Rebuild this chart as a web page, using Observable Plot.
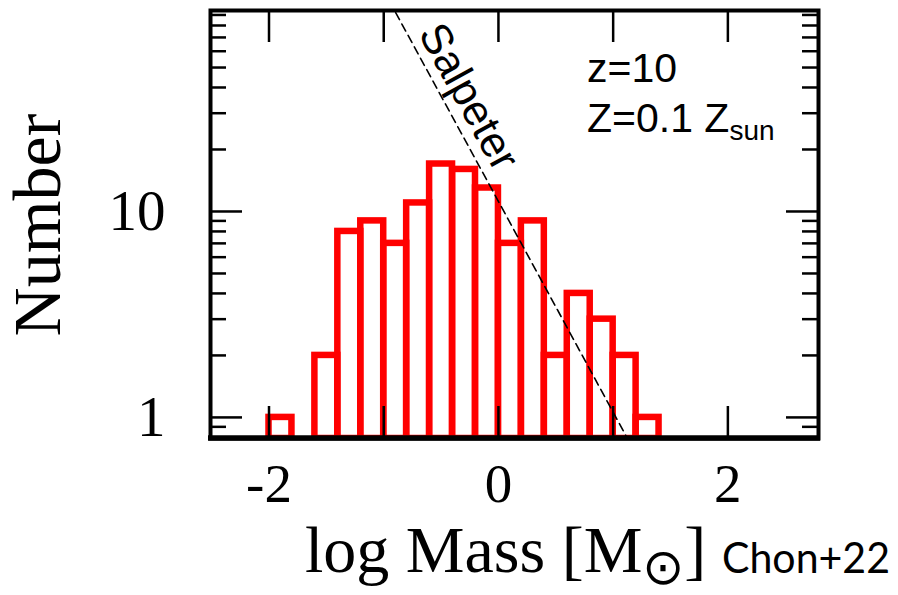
<!DOCTYPE html>
<html><head><meta charset="utf-8">
<script src="https://cdn.jsdelivr.net/npm/d3@7"></script>
<script src="https://cdn.jsdelivr.net/npm/@observablehq/plot@0.6"></script>
<style>body{margin:0;background:#fff} svg{display:block}</style>
</head><body><div id="chart"></div>
<script>
// Histogram bins (log Mass) and counts
const binLeft  = [-2.0,-1.8,-1.6,-1.4,-1.2,-1.0,-0.8,-0.6,-0.4,-0.2,0.0,0.2,0.4,0.6,0.8,1.0,1.2];
const binRight = [-1.8,-1.6,-1.4,-1.2,-1.0,-0.8,-0.6,-0.4,-0.2,0.0,0.2,0.4,0.6,0.8,1.0,1.2,1.4];
const counts   = [1,0,2,8,9,7,11,17,16,13,7,9,2,4,3,2,1];
// Salpeter reference line
const salpeterLogM = [-0.95, 1.13];
const salpeterN    = [105, 0.78];
// Ticks
const xTicks = [-2,-1,0,1,2];
const xTickLabels = [-2,0,2];
const yTickLabels = [1,10];
const yMinor = [0.8,0.9,2,3,4,5,6,7,8,9,20,30,40,50,60,70,80,90];
// Annotations
const salpeterLabel = {x: -0.26, y: 36, text: "Salpeter"};

const W = 898, H = 595, mL = 210, mR = 80, mT = 10, mB = 157;
const iw = W - mL - mR, ih = H - mT - mB;
const majorLen = 32, minorLen = 16;

const bins = binLeft.map((x1, i) => ({x1, x2: binRight[i], n: counts[i]})).filter(d => d.n > 0);
const salpeter = salpeterLogM.map((x, i) => ({x, y: salpeterN[i]}));
const yMin = 0.79, yMax = 94.6;

const serif = "'Liberation Serif', 'Times New Roman', serif";
const sans = "'Liberation Sans', Arial, sans-serif";

const plot = Plot.plot({
  width: W, height: H,
  marginLeft: mL, marginRight: mR, marginTop: mT, marginBottom: mB,
  x: {domain: [-2.51, 2.79]},
  y: {type: "log", domain: [yMin, yMax]},
  style: {background: "white", color: "black"},
  marks: [
    Plot.rect(bins, {x1: "x1", x2: "x2", y1: yMin, y2: "n", fill: "none", stroke: "#ff0000", strokeWidth: 6.5, clip: true}),
    Plot.line(salpeter, {x: "x", y: "y", stroke: "black", strokeWidth: 1.6, strokeDasharray: "8,5", clip: true}),
    Plot.text([salpeterLabel], {x: "x", y: "y", text: "text", rotate: 61, fontSize: 43, fontFamily: sans, fill: "black"}),
    // x ticks bottom and top (inward)
    Plot.tickX(xTicks, {x: d => d, insetTop: ih - majorLen, stroke: "black", strokeWidth: 2.5}),
    Plot.tickX(xTicks, {x: d => d, insetBottom: ih - majorLen, stroke: "black", strokeWidth: 2.5}),
    // y ticks left and right (inward)
    Plot.tickY(yTickLabels, {y: d => d, insetRight: iw - majorLen, stroke: "black", strokeWidth: 2.5}),
    Plot.tickY(yTickLabels, {y: d => d, insetLeft: iw - majorLen, stroke: "black", strokeWidth: 2.5}),
    Plot.tickY(yMinor, {y: d => d, insetRight: iw - minorLen, stroke: "black", strokeWidth: 2.5}),
    Plot.tickY(yMinor, {y: d => d, insetLeft: iw - minorLen, stroke: "black", strokeWidth: 2.5}),
    Plot.frame({stroke: "black", strokeWidth: 4}),
    Plot.axisX({ticks: xTickLabels, tickSize: 0, tickPadding: 24, fontSize: 55, fontFamily: serif, tickFormat: d => String(d), label: null}),
    Plot.axisY({ticks: yTickLabels, tickSize: 0, tickPadding: 45, fontSize: 57, fontFamily: serif, tickFormat: d => String(d), label: null})
  ]
});

const svg = d3.select(plot);
// bottom axis line thicker
svg.append("line").attr("x1", mL - 2).attr("x2", W - mR + 2).attr("y1", H - mB).attr("y2", H - mB)
  .attr("stroke", "black").attr("stroke-width", 5.5);

// y label
svg.append("text").attr("transform", "translate(60,225) rotate(-90)")
  .attr("text-anchor", "middle").attr("font-family", serif).attr("font-size", 68).attr("fill", "black")
  .text("Number");

// x label
const xl = svg.append("text").attr("x", 305).attr("y", 572).attr("text-anchor", "start")
  .attr("font-family", serif).attr("font-size", 66).attr("fill", "black");
xl.append("tspan").text("log Mass [M");
xl.append("tspan").attr("dy", 12).attr("font-size", 50).attr("font-family", "'DejaVu Sans', sans-serif").text("⊙");
xl.append("tspan").attr("dy", -12).text("]");

// credit
svg.append("text").attr("x", 722).attr("y", 573).attr("text-anchor", "start")
  .attr("font-family", "Lato, 'Open Sans', sans-serif").attr("font-size", 43).attr("fill", "black")
  .attr("textLength", 168).attr("lengthAdjust", "spacingAndGlyphs")
  .text("Chon+22");

// annotation
svg.append("text").attr("x", 587).attr("y", 82).attr("text-anchor", "start")
  .attr("font-family", sans).attr("font-size", 41).attr("fill", "black").text("z=10");
const zt = svg.append("text").attr("x", 587).attr("y", 132).attr("text-anchor", "start")
  .attr("font-family", sans).attr("font-size", 41).attr("fill", "black");
zt.append("tspan").text("Z=0.1 Z");
zt.append("tspan").attr("dy", 8).attr("font-size", 28).text("sun");

document.getElementById("chart").appendChild(plot);
</script>
</body></html>
